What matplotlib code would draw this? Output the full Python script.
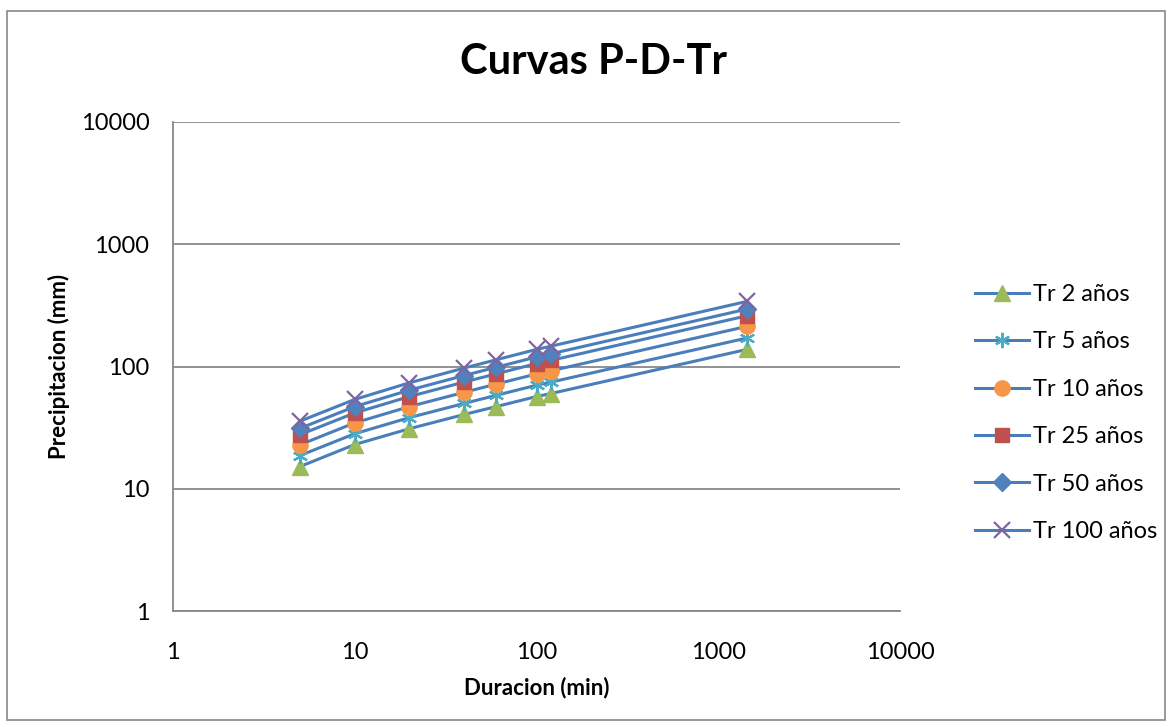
import matplotlib
matplotlib.use("Agg")
import matplotlib.pyplot as plt
from matplotlib.patches import Rectangle
from matplotlib.ticker import FixedLocator, FixedFormatter, NullLocator

plt.rcParams['font.family'] = ['Lato', 'DejaVu Sans']

# duraciones (min) y precipitaciones (mm)
duracion = [5, 10, 20, 40, 60, 100, 120, 1440]
tr2 = [15.2, 23.0, 31.0, 40.5, 47.0, 56.8, 60.1, 138]
tr5 = [18.7, 28.2, 38.2, 49.9, 58.1, 70.3, 74.5, 171]
tr10 = [22.9, 34.6, 47.0, 61.5, 71.8, 86.9, 92.2, 213]
tr25 = [27.7, 41.7, 56.8, 74.6, 87.1, 105.7, 112.2, 260]
tr50 = [31.2, 47.0, 64.1, 84.4, 98.6, 119.7, 127, 295]
tr100 = [35.7, 53.8, 73.6, 97.1, 113.5, 138, 146.6, 341]

series = [
    ("Tr 2 años", tr2, "^", "#9BBB59", 12),
    ("Tr 5 años", tr5, (6, 2, 0), "#4BACC6", 11),
    ("Tr 10 años", tr10, "o", "#F79646", 11),
    ("Tr 25 años", tr25, "s", "#C0504D", 10),
    ("Tr 50 años", tr50, "D", "#4F81BD", 9),
    ("Tr 100 años", tr100, "x", "#8064A2", 11),
]

fig = plt.figure(figsize=(11.72, 7.27), dpi=100)
fig.patches.append(Rectangle((7 / 1172, 7 / 727), 1158 / 1172, 709 / 727,
                             transform=fig.transFigure, fill=False,
                             edgecolor="#888888", lw=1.2))

ax = fig.add_axes([173 / 1172, 1 - 611 / 727, 727 / 1172, 489 / 727])
ax.set_xscale("log")
ax.set_yscale("log")
ax.set_xlim(1, 10000)
ax.set_ylim(1, 10000)

for name, vals, mk, col, ms in series:
    mew = 1.6 if mk in ("x", (6, 2, 0)) else 1
    ax.plot(duracion, vals, color="#4A7EBB", lw=2.2, marker=mk,
            markersize=ms, markerfacecolor=col, markeredgecolor=col,
            markeredgewidth=mew, label=name)

ticks = [1, 10, 100, 1000, 10000]
labels = ["1", "10", "100", "1000", "10000"]
ax.xaxis.set_major_locator(FixedLocator(ticks))
ax.xaxis.set_major_formatter(FixedFormatter(labels))
ax.yaxis.set_major_locator(FixedLocator(ticks))
ax.yaxis.set_major_formatter(FixedFormatter(labels))
ax.xaxis.set_minor_locator(NullLocator())
ax.yaxis.set_minor_locator(NullLocator())
ax.tick_params(length=0, labelsize=17)
ax.tick_params(axis="x", pad=22)
ax.tick_params(axis="y", pad=17)
ax.grid(axis="y", color="#888888", lw=1.3)
ax.set_axisbelow(True)
for s in ("top", "right"):
    ax.spines[s].set_visible(False)
for s in ("left", "bottom"):
    ax.spines[s].set_color("#888888")
    ax.spines[s].set_linewidth(1.3)

ax.set_xlabel("Duracion (min)", fontsize=16, fontweight="bold", labelpad=10)
ax.set_ylabel("Precipitacion (mm)", fontsize=16, fontweight="bold", labelpad=8)
fig.text(594 / 1172, 1 - 62 / 727, "Curvas P-D-Tr", fontsize=30,
         fontweight="bold", ha="center", va="center")

ax.legend(loc="center left", bbox_to_anchor=(975 / 1172, 1 - 413 / 727),
          bbox_transform=fig.transFigure, frameon=False, fontsize=17,
          handlelength=2.3, labelspacing=1.12, handletextpad=0.15,
          borderpad=0, borderaxespad=0)

fig.savefig("out.png", dpi=100)
